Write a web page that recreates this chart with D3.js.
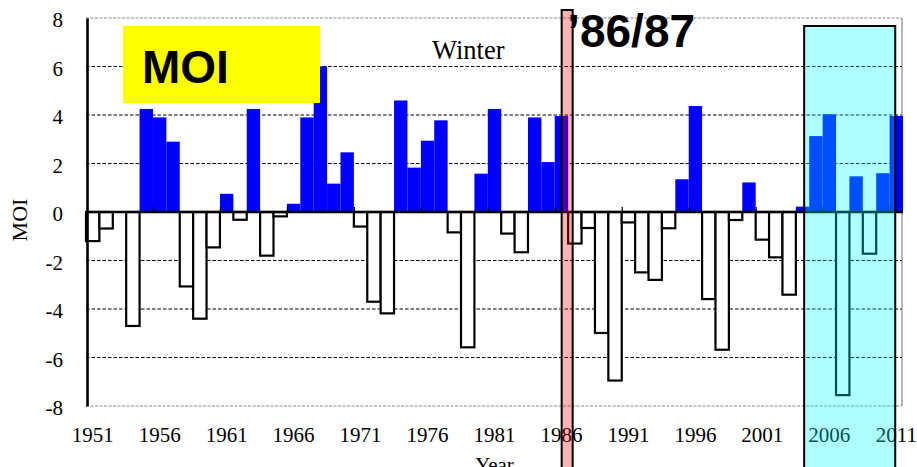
<!DOCTYPE html>
<html>
<head>
<meta charset="utf-8">
<script src="https://cdn.jsdelivr.net/npm/d3@7"></script>
<style>
  html, body { margin: 0; padding: 0; background: #fff; }
  svg { display: block; }
</style>
</head>
<body>
<script>
// Winter MOI index, 1951–2011
const years = d3.range(1951, 2012);
const moi = [
  -1.2, -0.68, 0, -4.7, 4.25, 3.9, 2.9, -3.07, -4.4, -1.46,
  0.75, -0.32, 4.25, -1.8, -0.18, 0.34, 3.9, 6.0, 1.17, 2.46,
  -0.6, -3.7, -4.18, 4.6, 1.83, 2.94, 3.78, -0.84, -5.58, 1.58,
  4.25, -0.89, -1.66, 3.9, 2.06, 3.96, -1.3, -0.66, -4.99, -6.95,
  -0.43, -2.49, -2.8, -0.67, 1.35, 4.37, -3.59, -5.68, -0.33, 1.22,
  -1.14, -1.87, -3.41, 0.22, 3.13, 4.03, -7.55, 1.47, -1.72, 1.6,
  3.96
];
const yTicks = [-8, -6, -4, -2, 0, 2, 4, 6, 8];
const xLabelYears = [1951, 1956, 1961, 1966, 1971, 1976, 1981, 1986, 1991, 1996, 2001, 2006, 2011];
const highlightWinter = 1987;          // the '86/87 winter
const recentSpan = [2004, 2011];       // shaded recent period

const W = 917, H = 467;
const plotL = 86, plotR = 903, plotT = 18, plotB = 406;
const serif = "'Liberation Serif', 'Times New Roman', serif";
const sans = "'Liberation Sans', Arial, sans-serif";

const svg = d3.select("body").append("svg").attr("width", W).attr("height", H);

const x = d3.scaleBand().domain(years).range([plotL, plotR]).padding(0);
const bw = x.bandwidth();
const y = d3.scaleLinear().domain([-8, 8]).range([plotB, plotT]);
// continuous version of the year axis for category boundaries
const xe = d3.scaleLinear().domain([1950.5, 2011.5]).range([plotL, plotR]);

// gridlines
svg.append("g").selectAll("line")
  .data(yTicks.filter(v => v !== 0 && Math.abs(v) !== 8))
  .join("line")
  .attr("x1", plotL).attr("x2", plotR - 1)
  .attr("y1", d => y(d)).attr("y2", d => y(d))
  .attr("stroke", "#000").attr("stroke-width", 1.1)
  .attr("stroke-dasharray", "3.5,2");

// plot frame: top/bottom dashed grey, right solid grey
svg.append("g").selectAll("line")
  .data([8, -8]).join("line")
  .attr("x1", plotL).attr("x2", plotR - 1)
  .attr("y1", d => y(d)).attr("y2", d => y(d))
  .attr("stroke", "#888").attr("stroke-width", 1.2)
  .attr("stroke-dasharray", "3,1.5");
svg.append("line")
  .attr("x1", plotR - 1).attr("x2", plotR - 1)
  .attr("y1", y(8)).attr("y2", y(-8))
  .attr("stroke", "#888").attr("stroke-width", 1.2);

// bars
const data = years.map((yr, i) => ({ yr, v: moi[i] }));
svg.append("g").selectAll("rect")
  .data(data.filter(d => d.v > 0)).join("rect")
  .attr("x", d => x(d.yr)).attr("width", bw)
  .attr("y", d => y(d.v)).attr("height", d => y(0) - y(d.v))
  .attr("fill", "#0000ff");
svg.append("g").selectAll("rect")
  .data(data.filter(d => d.v < 0)).join("rect")
  .attr("x", d => x(d.yr)).attr("width", bw)
  .attr("y", y(0)).attr("height", d => y(d.v) - y(0))
  .attr("fill", "#fff").attr("stroke", "#000").attr("stroke-width", 2.2);

// zero line with upward ticks at every fifth category boundary
const zeroAxis = svg.append("g").attr("transform", `translate(0,${y(0)})`)
  .call(d3.axisTop(xe).tickValues(d3.range(1955.5, 2011, 5)).tickSize(5).tickFormat(""));
zeroAxis.select(".domain").attr("stroke", "#000").attr("stroke-width", 2.6).attr("d", `M${plotL},0H${plotR}`);
zeroAxis.selectAll(".tick line").attr("stroke", "#000").attr("stroke-width", 1.2);

// y axis
const yAxis = svg.append("g").attr("transform", `translate(${plotL + 1},0)`)
  .call(d3.axisLeft(y).tickValues(yTicks).tickSize(0).tickPadding(24).tickFormat(d => String(d)));
yAxis.select(".domain").attr("stroke", "#000").attr("stroke-width", 2.6);
yAxis.selectAll("text")
  .attr("font-family", serif).attr("font-size", 21).attr("fill", "#000").attr("dy", "0.42em");

// year labels
const xAxis = svg.append("g").attr("transform", `translate(0,${plotB})`)
  .call(d3.axisBottom(x).tickValues(xLabelYears).tickSize(0).tickPadding(21));
xAxis.select(".domain").remove();
xAxis.selectAll("text").attr("font-family", serif).attr("font-size", 21).attr("fill", "#000");

// axis titles
svg.append("text")
  .attr("transform", "translate(27,220) rotate(-90)")
  .attr("text-anchor", "middle")
  .attr("font-family", serif).attr("font-size", 22)
  .text("MOI");
svg.append("text")
  .attr("x", (plotL + plotR) / 2).attr("y", 472)
  .attr("text-anchor", "middle")
  .attr("font-family", serif).attr("font-size", 21)
  .text("Year");

// title box
svg.append("rect")
  .attr("x", 123).attr("y", 26).attr("width", 197).attr("height", 77)
  .attr("fill", "#ffff00");
svg.append("text")
  .attr("x", 142).attr("y", 83)
  .attr("font-family", sans).attr("font-weight", "bold").attr("font-size", 46)
  .text("MOI");

svg.append("text")
  .attr("x", 432).attr("y", 59)
  .attr("font-family", serif).attr("font-size", 26.5)
  .text("Winter");

// '86/87 marker
const xm = x(highlightWinter);
svg.append("rect")
  .attr("x", xm - 6.5).attr("y", 10).attr("width", 11).attr("height", H)
  .attr("fill", "rgba(255,0,0,0.3)").attr("stroke", "#000").attr("stroke-width", 2);
svg.append("text")
  .attr("x", xm - 1).attr("y", 47)
  .attr("font-family", sans).attr("font-weight", "bold").attr("font-size", 46)
  .text("\u201986/87");

// recent period shading
const xs0 = x(recentSpan[0]) + 0.62 * bw;
const xs1 = x(recentSpan[1]) + 0.42 * bw;
svg.append("rect")
  .attr("x", xs0).attr("y", 26).attr("width", xs1 - xs0).attr("height", H)
  .attr("fill", "rgba(0,255,255,0.31)").attr("stroke", "#000").attr("stroke-width", 2);
</script>
</body>
</html>
